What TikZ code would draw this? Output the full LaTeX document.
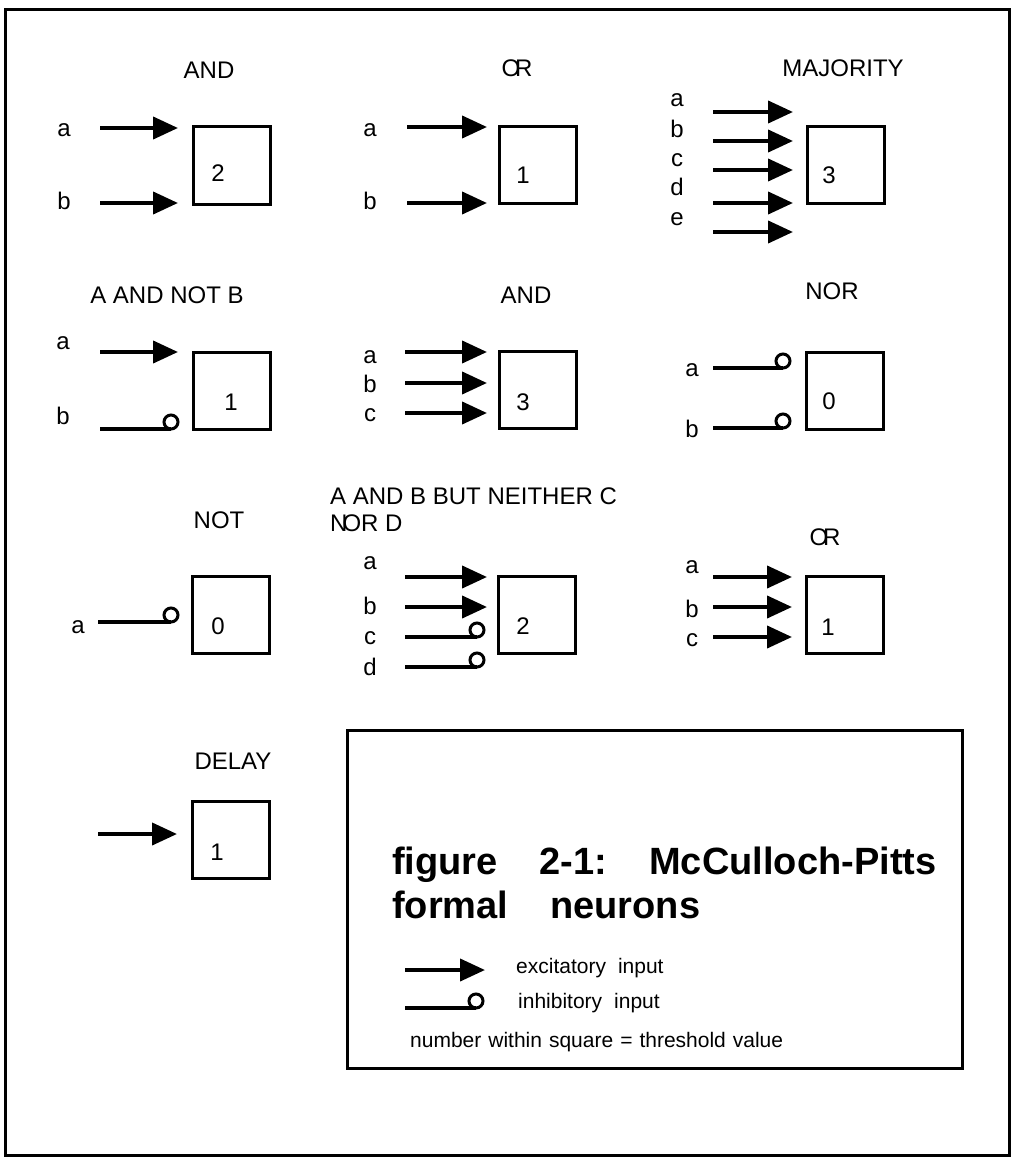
\documentclass[tikz,border=0pt]{standalone}
\usepackage{fontspec}
\setmainfont{Liberation Sans}
\usetikzlibrary{arrows.meta}
\tikzset{
  neuron/.style={draw, line width=3pt, minimum size=77pt, inner sep=0pt},
  ttl/.style={font=\fontsize{24}{28}\selectfont, inner sep=0pt},
  lbl/.style={font=\fontsize{24}{28}\selectfont, inner sep=0pt},
  thr/.style={font=\fontsize{24}{28}\selectfont, inner sep=0pt},
  excite/.style={line width=4pt, -{Triangle[length=25pt,width=22pt]}},
  inhib/.style={line width=3.5pt},
  bulb/.style={line width=3pt},
  frame/.style={draw, line width=3pt},
  bigt/.style={font=\fontsize{38}{44}\bfseries\selectfont, inner sep=0pt, anchor=west},
  legt/.style={font=\fontsize{21}{26}\selectfont, inner sep=0pt, anchor=west},
}
\newcommand\excline[4]{\coordinate (#1s) at (#2,#4); \coordinate (#1e) at (#3,#4); \draw[excite] (#1s) -- (#1e);}
\newcommand\inhline[4]{\coordinate (#1s) at (#2,#4); \coordinate (#1e) at (#3,#4); \coordinate (#1c) at (#3,#4-7); \draw[inhib] (#1s) -- (#1e); \draw[bulb] (#1c) circle[radius=7pt];}
\begin{document}
\begin{tikzpicture}[x=1pt,y=-1pt]
\useasboundingbox (0,0) rectangle (1012,1161);
\draw[frame] (5,10) rectangle (1009,1155);

% Gate 1: AND
\node[ttl] (t1) at (209,70) {AND};
\node[lbl] (g1a) at (64,130) {a};
\node[lbl] (g1b) at (64,201) {b};
\excline{g1x}{100}{178}{128}
\excline{g1y}{100}{178}{203}
\node[neuron] (n1) at (231.5,165.5) {};
\node[thr] (n1t) at (218,173) {2};

% Gate 2: OR
\node[ttl] (t2) at (517,68) {O\kern-5pt R};
\node[lbl] (g2a) at (370,130) {a};
\node[lbl] (g2b) at (370,201) {b};
\excline{g2x}{407}{487}{127}
\excline{g2y}{407}{487}{203}
\node[neuron] (n2) at (537.5,165) {};
\node[thr] (n2t) at (523,175) {1};

% Gate 3: MAJORITY
\node[ttl] (t3) at (843,68) {MAJORITY};
\node[lbl] (g3a) at (677,100) {a};
\node[lbl] (g3b) at (677,129) {b};
\node[lbl] (g3c) at (677,160) {c};
\node[lbl] (g3d) at (677,187) {d};
\node[lbl] (g3e) at (677,219) {e};
\excline{g3v}{713}{793}{112}
\excline{g3w}{713}{793}{141}
\excline{g3x}{713}{793}{170}
\excline{g3y}{713}{793}{203}
\excline{g3z}{713}{793}{232}
\node[neuron] (n3) at (845.5,165) {};
\node[thr] (n3t) at (829,175) {3};

% Gate 4: A AND NOT B
\node[ttl] (t4) at (167,295) {A AND NOT B};
\node[lbl] (g4a) at (63,343) {a};
\node[lbl] (g4b) at (63,416) {b};
\excline{g4x}{100}{178}{352}
\inhline{g4y}{100}{171}{429}
\node[neuron] (n4) at (231.5,390.5) {};
\node[thr] (n4t) at (231,402) {1};

% Gate 5: AND (3 inputs)
\node[ttl] (t5) at (526,295) {AND};
\node[lbl] (g5a) at (370,357) {a};
\node[lbl] (g5b) at (370,384) {b};
\node[lbl] (g5c) at (370,415) {c};
\excline{g5x}{405}{487}{352}
\excline{g5y}{405}{487}{383}
\excline{g5z}{405}{487}{413}
\node[neuron] (n5) at (537.5,390) {};
\node[thr] (n5t) at (523,402) {3};

% Gate 6: NOR
\node[ttl] (t6) at (832,291) {NOR};
\node[lbl] (g6a) at (692,370) {a};
\node[lbl] (g6b) at (692,429) {b};
\inhline{g6x}{713}{783}{368}
\inhline{g6y}{713}{783}{428}
\node[neuron] (n6) at (845,390.5) {};
\node[thr] (n6t) at (829,401) {0};

% Gate 7: NOT
\node[ttl] (t7) at (219,520) {NOT};
\node[lbl] (g7a) at (78,627) {a};
\inhline{g7x}{98}{171}{622}
\node[neuron] (n7) at (231,615) {};
\node[thr] (n7t) at (218,626) {0};

% Gate 8: A AND B BUT NEITHER C NOR D
\node[ttl, anchor=west] (t8a) at (330,496) {A AND B BUT NEITHER C};
\node[ttl, anchor=west] (t8b) at (330,523) {N\kern-5pt OR D};
\node[lbl] (g8a) at (370,563) {a};
\node[lbl] (g8b) at (370,606) {b};
\node[lbl] (g8c) at (370,638) {c};
\node[lbl] (g8d) at (370,667) {d};
\excline{g8w}{405}{487}{577}
\excline{g8x}{405}{487}{607}
\inhline{g8y}{405}{477}{637}
\inhline{g8z}{405}{477}{667}
\node[neuron] (n8) at (537,615) {};
\node[thr] (n8t) at (523,626) {2};

% Gate 9: OR (3 inputs)
\node[ttl] (t9) at (825,537) {O\kern-5pt R};
\node[lbl] (g9a) at (692,567) {a};
\node[lbl] (g9b) at (692,609) {b};
\node[lbl] (g9c) at (692,640) {c};
\excline{g9x}{713}{792}{577}
\excline{g9y}{713}{792}{607}
\excline{g9z}{713}{792}{637}
\node[neuron] (n9) at (844.5,615) {};
\node[thr] (n9t) at (828,627) {1};

% Gate 10: DELAY
\node[ttl] (t10) at (233,761) {DELAY};
\excline{g10x}{98}{177}{834}
\node[neuron] (n10) at (230.5,840) {};
\node[thr] (n10t) at (217,852) {1};

% Legend
\node[frame, minimum width=615pt, minimum height=338pt, inner sep=0pt] (leg) at (654.5,899) {};
\node[bigt] (lt1) at (392,865) {figure\hspace{42pt}2-1:\hspace{42pt}McCulloch-Pitts};
\node[bigt] (lt2) at (392,905) {formal\hspace{42pt}neurons};
\excline{lex}{405}{485}{970}
\node[legt] (lext) at (516,968) {excitatory\hspace{12pt}input};
\inhline{lin}{405}{476}{1008}
\node[legt] (lint) at (518,1003) {inhibitory\hspace{12pt}input};
\node[legt] (lnum) at (410,1042) {number\hspace{7pt}within\hspace{7pt}square\hspace{7pt}=\hspace{7pt}threshold\hspace{7pt}value};
\end{tikzpicture}
\end{document}
